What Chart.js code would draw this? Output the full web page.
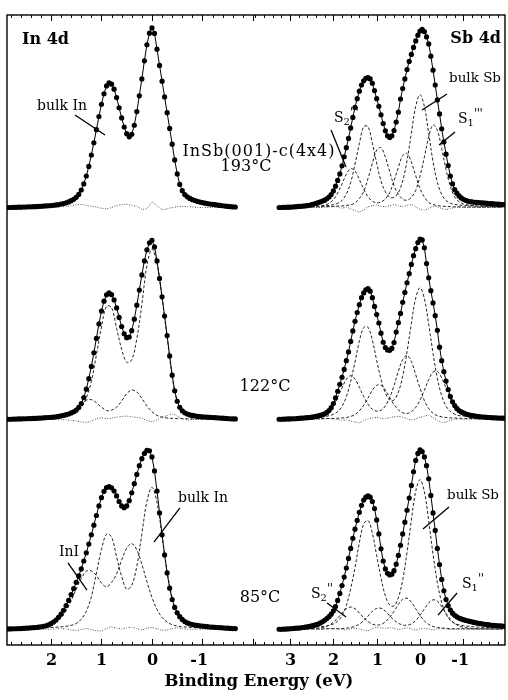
<!DOCTYPE html>
<html>
<head>
<meta charset="utf-8">
<script src="https://cdn.jsdelivr.net/npm/chart.js@4.4.1/dist/chart.umd.min.js"></script>
<style>
  html, body { margin: 0; padding: 0; background: #fff; }
  #wrap { position: relative; width: 508px; height: 700px; }
  canvas { display: block; }
</style>
</head>
<body>
<div id="wrap"><canvas id="xps" width="508" height="700"></canvas></div>
<script>
// Binding energies (eV) of the measured points
var E_IN = [2.85,2.8,2.75,2.7,2.65,2.6,2.55,2.5,2.45,2.4,2.35,2.3,2.25,2.2,2.15,2.1,2.05,2,
  1.95,1.9,1.85,1.8,1.75,1.7,1.65,1.6,1.55,1.5,1.45,1.4,1.35,1.3,1.25,1.2,1.15,1.1,1.05,1,
  0.95,0.9,0.85,0.8,0.75,0.7,0.65,0.6,0.55,0.5,0.45,0.4,0.35,0.3,0.25,0.2,0.15,0.1,0.05,0,
  -0.05,-0.1,-0.15,-0.2,-0.25,-0.3,-0.35,-0.4,-0.45,-0.5,-0.55,-0.6,-0.65,-0.7,-0.75,-0.8,-0.85,-0.9,-0.95,-1,
  -1.05,-1.1,-1.15,-1.2,-1.25,-1.3,-1.35,-1.4,-1.45,-1.5,-1.55,-1.6,-1.65];
var E_SB = [3.25,3.2,3.15,3.1,3.05,3,2.95,2.9,2.85,2.8,2.75,2.7,2.65,2.6,2.55,2.5,2.45,2.4,2.35,2.3,2.25,2.2,2.15,2.1,2.05,2,
  1.95,1.9,1.85,1.8,1.75,1.7,1.65,1.6,1.55,1.5,1.45,1.4,1.35,1.3,1.25,1.2,1.15,1.1,1.05,1,
  0.95,0.9,0.85,0.8,0.75,0.7,0.65,0.6,0.55,0.5,0.45,0.4,0.35,0.3,0.25,0.2,0.15,0.1,0.05,0,
  -0.05,-0.1,-0.15,-0.2,-0.25,-0.3,-0.35,-0.4,-0.45,-0.5,-0.55,-0.6,-0.65,-0.7,-0.75,-0.8,-0.85,-0.9,-0.95,-1,
  -1.05,-1.1,-1.15,-1.2,-1.25,-1.3,-1.35,-1.4,-1.45,-1.5,-1.55,-1.6,-1.65,-1.7,-1.75,-1.8,-1.85,-1.9,-1.95];

// In 4d spectra (normalised intensity)
var IN_193 = [0,0,0.001,0.001,0.002,0.002,0.003,0.003,0.004,0.004,0.005,0.005,0.006,0.007,0.008,0.009,0.010,0.011,
  0.013,0.015,0.017,0.020,0.023,0.027,0.032,0.039,0.047,0.058,0.075,0.100,0.135,0.180,0.235,0.300,0.370,0.445,0.520,0.590,
  0.650,0.695,0.712,0.705,0.676,0.628,0.570,0.512,0.460,0.422,0.404,0.418,0.470,0.548,0.638,0.735,0.838,0.930,0.996,1.026,
  0.995,0.905,0.812,0.722,0.632,0.542,0.452,0.362,0.272,0.192,0.132,0.096,0.074,0.061,0.052,0.045,0.040,0.035,0.031,0.028,
  0.025,0.022,0.020,0.018,0.016,0.014,0.012,0.010,0.008,0.006,0.005,0.004,0.003];
var IN_122 = [0,0,0.001,0.001,0.002,0.002,0.003,0.003,0.004,0.004,0.005,0.005,0.006,0.007,0.008,0.009,0.010,0.011,
  0.012,0.014,0.016,0.019,0.022,0.026,0.030,0.036,0.043,0.053,0.068,0.090,0.124,0.172,0.232,0.302,0.380,0.462,0.545,0.618,
  0.675,0.711,0.722,0.712,0.682,0.636,0.582,0.530,0.488,0.466,0.470,0.506,0.572,0.652,0.738,0.825,0.905,0.968,1.008,1.023,
  0.985,0.905,0.805,0.700,0.590,0.478,0.362,0.252,0.163,0.103,0.068,0.048,0.037,0.030,0.025,0.022,0.019,0.017,0.015,0.014,
  0.013,0.012,0.011,0.010,0.009,0.008,0.007,0.006,0.005,0.004,0.003,0.002,0.002];
var IN_85 = [0.002,0.002,0.003,0.003,0.004,0.004,0.005,0.006,0.007,0.008,0.009,0.010,0.012,0.014,0.017,0.020,0.025,0.032,
  0.041,0.053,0.068,0.086,0.108,0.135,0.165,0.198,0.232,0.268,0.305,0.345,0.390,0.437,0.487,0.540,0.595,0.650,0.705,0.752,
  0.788,0.810,0.815,0.808,0.790,0.762,0.730,0.705,0.695,0.705,0.735,0.780,0.832,0.885,0.935,0.975,1.005,1.022,1.020,0.985,
  0.905,0.790,0.665,0.540,0.425,0.322,0.235,0.170,0.125,0.094,0.072,0.056,0.044,0.036,0.031,0.027,0.024,0.022,0.020,0.018,
  0.016,0.015,0.013,0.012,0.011,0.010,0.009,0.008,0.007,0.006,0.005,0.004,0.004];

// Sb 4d spectra
var SB_193 = [0,0,0.001,0.001,0.002,0.002,0.003,0.004,0.005,0.006,0.007,0.008,0.009,0.011,0.013,0.016,0.020,0.024,0.028,0.032,0.037,0.042,0.050,0.060,0.074,0.095,
  0.122,0.155,0.192,0.238,0.290,0.342,0.395,0.455,0.515,0.572,0.622,0.665,0.700,0.724,0.738,0.742,0.735,0.710,0.668,0.622,
  0.578,0.530,0.480,0.438,0.410,0.400,0.410,0.440,0.488,0.545,0.620,0.680,0.735,0.788,0.835,0.875,0.915,0.952,0.985,1.008,
  1.018,1.005,0.975,0.935,0.865,0.785,0.700,0.615,0.535,0.450,0.375,0.305,0.240,0.180,0.135,0.102,0.082,0.066,0.055,0.047,
  0.041,0.037,0.034,0.032,0.030,0.029,0.028,0.027,0.026,0.025,0.024,0.023,0.022,0.021,0.020,0.019,0.018,0.017,0.016];
var SB_122 = [0,0,0.001,0.001,0.002,0.002,0.003,0.003,0.004,0.005,0.006,0.007,0.008,0.009,0.010,0.012,0.014,0.016,0.019,0.022,0.026,0.031,0.039,0.050,0.066,0.090,
  0.122,0.160,0.200,0.240,0.285,0.335,0.385,0.445,0.505,0.560,0.610,0.655,0.695,0.722,0.740,0.747,0.732,0.695,0.645,0.598,
  0.550,0.492,0.440,0.410,0.396,0.394,0.405,0.438,0.498,0.552,0.605,0.668,0.725,0.780,0.832,0.885,0.935,0.975,1.010,1.030,
  1.025,0.980,0.890,0.808,0.735,0.665,0.592,0.508,0.412,0.335,0.272,0.218,0.170,0.130,0.100,0.078,0.062,0.050,0.042,0.036,
  0.031,0.027,0.024,0.021,0.019,0.017,0.015,0.014,0.013,0.012,0.011,0.010,0.009,0.008,0.008,0.007,0.007,0.006,0.006];
var SB_85 = [0,0,0.001,0.001,0.002,0.003,0.004,0.005,0.006,0.007,0.008,0.010,0.012,0.014,0.016,0.019,0.022,0.026,0.030,0.036,0.043,0.051,0.061,0.072,0.086,0.105,
  0.130,0.165,0.205,0.250,0.298,0.350,0.405,0.462,0.520,0.572,0.622,0.668,0.708,0.738,0.755,0.762,0.755,0.730,0.690,0.625,
  0.545,0.460,0.390,0.345,0.320,0.310,0.315,0.335,0.372,0.422,0.480,0.545,0.612,0.680,0.750,0.822,0.900,0.965,1.005,1.025,
  1.015,0.985,0.935,0.860,0.765,0.665,0.565,0.462,0.370,0.285,0.220,0.170,0.135,0.110,0.092,0.080,0.071,0.064,0.059,0.055,
  0.051,0.048,0.045,0.042,0.039,0.036,0.034,0.032,0.030,0.028,0.026,0.025,0.023,0.022,0.021,0.020,0.019,0.018,0.017];

// Fit components and residuals, on a coarser energy grid
var C_IN = [2.8,2.6,2.4,2.2,2, 1.9,1.8,1.7,1.6,1.5,1.4,1.3,1.2,1.1,1, 0.9,0.8,0.7,0.6,0.5,0.4,0.3,0.2,0.1,0,
  -0.1,-0.2,-0.3,-0.4,-0.5,-0.6,-0.7,-0.8,-0.9,-1, -1.2,-1.4,-1.6];
var C_SB = [3.2,3,2.8,2.6,2.4,2.3,2.2,2.1,2, 1.9,1.8,1.7,1.6,1.5,1.4,1.3,1.2,1.1,1, 0.9,0.8,0.7,0.6,0.5,0.4,0.3,0.2,0.1,0,
  -0.1,-0.2,-0.3,-0.4,-0.5,-0.6,-0.7,-0.8,-0.9,-1, -1.2,-1.4,-1.6,-1.9];

var IN_122_BULK = [0.005,0.006,0.007,0.009,0.012, 0.014,0.017,0.021,0.026,0.036,0.066,0.121,0.216,0.368,0.527,
  0.646,0.638,0.519,0.400,0.325,0.340,0.460,0.656,0.878,0.973, 0.890,0.690,0.470,0.245,0.100,0.050,0.032,0.025,0.020,0.017, 0.012,0.010,0.008];
var IN_122_SURF = [0.001,0.002,0.002,0.003,0.004, 0.006,0.011,0.018,0.034,0.059,0.089,0.109,0.112,0.095,0.069,
  0.050,0.052,0.069,0.105,0.146,0.167,0.156,0.119,0.076,0.043, 0.022,0.012,0.007,0.005,0.004,0.003,0.003,0.002,0.002,0.001, 0.001,0.001,0.001];
var IN_85_BULK = [0.004,0.005,0.006,0.008,0.010, 0.012,0.014,0.017,0.022,0.033,0.057,0.103,0.185,0.321,0.456,
  0.544,0.527,0.412,0.302,0.228,0.251,0.361,0.545,0.731,0.811, 0.724,0.531,0.330,0.181,0.093,0.049,0.031,0.023,0.018,0.015, 0.011,0.009,0.008];
var IN_85_INI = [0.006,0.007,0.009,0.013,0.026, 0.040,0.066,0.106,0.162,0.229,0.290,0.332,0.333,0.307,0.264,
  0.243,0.267,0.318,0.395,0.464,0.489,0.454,0.371,0.273,0.182, 0.113,0.068,0.041,0.026,0.018,0.014,0.012,0.010,0.008,0.007, 0.005,0.005,0.004];

var SB_193_BULK = [0.003,0.004,0.005,0.006,0.007,0.008,0.010,0.012,0.017, 0.024,0.040,0.077,0.142,0.248,0.364,0.462,0.462,0.367,0.254,
  0.150,0.090,0.059,0.058,0.085,0.151,0.267,0.425,0.578,0.645, 0.577,0.423,0.262,0.144,0.074,0.040,0.024,0.018,0.014,0.012, 0.009,0.007,0.006,0.004];
var SB_193_S1 = [0.002,0.002,0.003,0.003,0.004,0.004,0.005,0.005,0.006, 0.008,0.009,0.012,0.015,0.026,0.051,0.091,0.166,0.252,0.328,
  0.342,0.288,0.205,0.125,0.076,0.047,0.042,0.058,0.098,0.180, 0.287,0.404,0.472,0.440,0.337,0.217,0.120,0.061,0.033,0.020, 0.011,0.008,0.006,0.004];
var SB_193_S2 = [0.002,0.003,0.004,0.005,0.007,0.009,0.013,0.024,0.044, 0.083,0.135,0.190,0.222,0.209,0.160,0.105,0.061,0.036,0.027,
  0.031,0.049,0.085,0.152,0.229,0.297,0.309,0.259,0.182,0.107, 0.060,0.029,0.017,0.011,0.008,0.006,0.005,0.004,0.004,0.003, 0.003,0.002,0.002,0.002];
var SB_122_BULK = [0.005,0.006,0.007,0.009,0.011,0.013,0.015,0.020,0.028, 0.043,0.073,0.129,0.216,0.327,0.446,0.524,0.526,0.451,0.336,
  0.229,0.150,0.110,0.110,0.155,0.246,0.385,0.548,0.692,0.751, 0.690,0.543,0.376,0.233,0.134,0.075,0.044,0.029,0.021,0.018, 0.013,0.010,0.007,0.006];
var SB_122_S1 = [0.001,0.001,0.002,0.002,0.003,0.003,0.004,0.004,0.005, 0.006,0.007,0.010,0.016,0.027,0.048,0.080,0.121,0.166,0.194,
  0.195,0.167,0.124,0.084,0.054,0.037,0.033,0.043,0.068,0.109, 0.166,0.226,0.270,0.273,0.236,0.178,0.117,0.070,0.040,0.023, 0.010,0.006,0.004,0.003];
var SB_122_S2 = [0.003,0.004,0.005,0.007,0.010,0.016,0.026,0.045,0.078, 0.125,0.180,0.228,0.249,0.230,0.182,0.130,0.086,0.057,0.046,
  0.051,0.076,0.124,0.193,0.274,0.341,0.365,0.330,0.255,0.176, 0.107,0.061,0.034,0.020,0.014,0.010,0.008,0.007,0.006,0.005, 0.004,0.004,0.003,0.002];
var SB_85_BULK = [0.005,0.006,0.008,0.010,0.013,0.015,0.017,0.022,0.030, 0.046,0.077,0.136,0.231,0.352,0.495,0.601,0.622,0.549,0.421,
  0.293,0.191,0.139,0.133,0.180,0.282,0.438,0.624,0.788,0.855, 0.786,0.619,0.428,0.266,0.153,0.086,0.050,0.033,0.025,0.020, 0.015,0.011,0.009,0.007];
var SB_85_S1 = [0.001,0.001,0.001,0.002,0.002,0.002,0.002,0.003,0.003, 0.003,0.004,0.006,0.010,0.017,0.029,0.049,0.075,0.102,0.119,
  0.120,0.103,0.076,0.052,0.034,0.024,0.023,0.031,0.050,0.080, 0.116,0.151,0.168,0.160,0.129,0.091,0.058,0.033,0.018,0.011, 0.005,0.003,0.002,0.002];
var SB_85_S2 = [0.002,0.002,0.002,0.003,0.005,0.008,0.013,0.023,0.040, 0.064,0.092,0.117,0.127,0.117,0.093,0.066,0.044,0.029,0.024,
  0.027,0.042,0.068,0.102,0.142,0.172,0.177,0.155,0.117,0.079, 0.047,0.028,0.016,0.010,0.007,0.005,0.004,0.003,0.003,0.003, 0.002,0.002,0.002,0.001];

var IN_193_RES = [0,0,0,0,0, 0.002,0.004,0.006,0.010,0.016,0.018,0.012,0.007,0.003,-0.004,
  -0.008,0,0.011,0.016,0.019,0.012,0.006,-0.010,-0.006,0.030, 0.010,-0.012,-0.008,0,0.004,0.006,0.006,0.003,0,0, 0,0,0];
var IN_122_RES = [0,0,0,0,0, 0,-0.002,-0.004,-0.006,-0.010,-0.015,-0.018,-0.010,0.002,0.008,
  0.004,0.006,0.012,0.016,0.018,0.014,0.010,0.006,-0.008,-0.014, -0.004,0.012,0.020,0.032,0.018,0.004,-0.004,-0.002,0,0, 0,0,0];
var IN_85_RES = [0,0,0,0,0, 0.002,0.004,0.002,-0.004,-0.006,-0.002,0.004,-0.002,-0.008,-0.010,
  0.004,0.014,0.006,0.002,0.008,0.012,0.004,-0.004,0.006,0.010, 0.002,-0.006,-0.004,0.004,0.008,0.004,0,0,0,0, 0,0,0];
var SB_193_RES = [0,0,0,0,0,0,0.002,0.004,0.008, 0.004,-0.004,0.002,-0.008,-0.018,-0.026,-0.014,0.004,0.010,0.014,
  0.008,0.004,0.010,0.016,0.010,0.006,0.012,0.016,0.004,-0.010, -0.016,-0.004,0.006,0.004,-0.006,-0.012,-0.006,0,0.002,0, 0,0,0,0];
var SB_122_RES = [0,0,0,0,0,0,0.002,0.004,0.002, -0.002,-0.006,-0.004,-0.010,-0.016,-0.020,-0.008,0.002,0.008,0.010,
  0.006,0.004,0.010,0.014,0.016,0.012,0.004,-0.004,0.002,0.010, 0.018,0.022,0.010,-0.006,-0.018,-0.016,-0.006,0,0.002,0, 0,0,0,0];
var SB_85_RES = [0,0,0,0,0,0,0.002,0.003,0.004, 0.002,-0.002,-0.004,0.002,0.006,0.002,-0.006,-0.008,0.004,0.012,
  0.008,0.004,0.010,0.006,-0.002,0.004,0.008,0.002,-0.004,0.002, 0.006,0.002,-0.004,0.002,0.006,0.002,-0.002,0,0,0, 0,0,0,0];

// Axis ticks (0.2 eV minor steps) and the labelled ones
var IN_TICKS = [2.8,2.6,2.4,2.2,2,1.8,1.6,1.4,1.2,1,0.8,0.6,0.4,0.2,0,-0.2,-0.4,-0.6,-0.8,-1,-1.2,-1.4,-1.6,-1.8,-2];
var SB_TICKS = [3.8,3.6,3.4,3.2,3,2.8,2.6,2.4,2.2,2,1.8,1.6,1.4,1.2,1,0.8,0.6,0.4,0.2,0,-0.2,-0.4,-0.6,-0.8,-1,-1.2,-1.4,-1.6,-1.8];
var IN_LABELS = [2, 1, 0, -1];
var SB_LABELS = [3, 2, 1, 0, -1];

var SERIF = "'DejaVu Serif', 'Liberation Serif', serif";

function pts(xs, ys) {
  return xs.map(function(x, i) { return { x: x, y: ys[i] }; });
}
function dots(xs, ys, xa, ya) {
  return { data: pts(xs, ys), xAxisID: xa, yAxisID: ya, showLine: true,
    borderColor: "#000", borderWidth: 1, pointRadius: 2.6, pointHoverRadius: 2.6,
    pointBackgroundColor: "#000", pointBorderWidth: 0 };
}
function comp(xs, ys, xa, ya) {
  return { data: pts(xs, ys), xAxisID: xa, yAxisID: ya, showLine: true,
    borderColor: "#222", borderWidth: 1, borderDash: [3, 2], pointRadius: 0, tension: 0.35 };
}
function resid(xs, ys, xa, ya) {
  return { data: pts(xs, ys), xAxisID: xa, yAxisID: ya, showLine: true,
    borderColor: "#555", borderWidth: 1, borderDash: [1, 1.5], pointRadius: 0, tension: 0.2 };
}

// dataset 0 is drawn on top, so the measured points come first
var datasets = [
  dots(E_IN, IN_193, "xIn", "y1"), dots(E_IN, IN_122, "xIn", "y2"), dots(E_IN, IN_85, "xIn", "y3"),
  dots(E_SB, SB_193, "xSb", "y1"), dots(E_SB, SB_122, "xSb", "y2"), dots(E_SB, SB_85, "xSb", "y3"),
  comp(C_IN, IN_122_BULK, "xIn", "y2"), comp(C_IN, IN_122_SURF, "xIn", "y2"),
  comp(C_IN, IN_85_BULK, "xIn", "y3"), comp(C_IN, IN_85_INI, "xIn", "y3"),
  comp(C_SB, SB_193_BULK, "xSb", "y1"), comp(C_SB, SB_193_S1, "xSb", "y1"), comp(C_SB, SB_193_S2, "xSb", "y1"),
  comp(C_SB, SB_122_BULK, "xSb", "y2"), comp(C_SB, SB_122_S1, "xSb", "y2"), comp(C_SB, SB_122_S2, "xSb", "y2"),
  comp(C_SB, SB_85_BULK, "xSb", "y3"), comp(C_SB, SB_85_S1, "xSb", "y3"), comp(C_SB, SB_85_S2, "xSb", "y3"),
  resid(C_IN, IN_193_RES, "xIn", "y1"), resid(C_IN, IN_122_RES, "xIn", "y2"), resid(C_IN, IN_85_RES, "xIn", "y3"),
  resid(C_SB, SB_193_RES, "xSb", "y1"), resid(C_SB, SB_122_RES, "xSb", "y2"), resid(C_SB, SB_85_RES, "xSb", "y3")
];

// leader lines, in (energy, intensity) of their panel
var LEADERS = [
  { x: "xIn", y: "y1", e: [1.524, 0.93], v: [0.529, 0.414] },
  { x: "xSb", y: "y1", e: [2.053, 1.707], v: [0.443, 0.231] },
  { x: "xSb", y: "y1", e: [-0.623, -0.046], v: [0.649, 0.557] },
  { x: "xSb", y: "y1", e: [-0.807, -0.438], v: [0.431, 0.357] },
  { x: "xIn", y: "y3", e: [-0.554, -0.04], v: [0.693, 0.498] },
  { x: "xIn", y: "y3", e: [1.663, 1.287], v: [0.379, 0.224] },
  { x: "xSb", y: "y3", e: [-0.669, -0.069], v: [0.699, 0.573] },
  { x: "xSb", y: "y3", e: [2.145, 1.707], v: [0.150, 0.070] },
  { x: "xSb", y: "y3", e: [-0.854, -0.415], v: [0.207, 0.081] }
];

var TEXTS = [
  { t: "In 4d", x: 22, y: 40, f: "bold 16px", a: "left" },
  { t: "Sb 4d", x: 501, y: 39, f: "bold 16px", a: "right" },
  { t: "bulk In", x: 37, y: 106, f: "14px", a: "left" },
  { t: "InSb(001)-c(4x4)", x: 259, y: 152, f: "16px", a: "center", sp: 1 },
  { t: "193\u00b0C", x: 246, y: 167, f: "16px", a: "center" },
  { t: "bulk Sb", x: 449, y: 78, f: "13.5px", a: "left" },
  { t: "122\u00b0C", x: 265, y: 387, f: "16px", a: "center" },
  { t: "bulk In", x: 178, y: 498, f: "14px", a: "left" },
  { t: "InI", x: 59, y: 552, f: "14px", a: "left" },
  { t: "bulk Sb", x: 447, y: 495, f: "13.5px", a: "left" },
  { t: "85\u00b0C", x: 260, y: 598, f: "16px", a: "center" },
  { t: "Binding Energy (eV)", x: 259, y: 682, f: "bold 16.5px", a: "center" }
];
var SLABELS = [
  { sub: "2", p: "'''", x: 334, y: 118 },
  { sub: "1", p: "'''", x: 458, y: 119 },
  { sub: "2", p: "''", x: 311, y: 594 },
  { sub: "1", p: "''", x: 462, y: 584 }
];

function tickLabel(labels) {
  return function(v) { return labels.indexOf(v) >= 0 ? String(v) : ""; };
}

var decor = {
  id: "decor",
  afterDraw: function(chart) {
    var ctx = chart.ctx, a = chart.chartArea;
    ctx.save();
    ctx.strokeStyle = "#000";
    ctx.fillStyle = "#000";

    // frame
    ctx.lineWidth = 1.4;
    ctx.strokeRect(a.left, a.top, a.right - a.left, a.bottom - a.top);

    // inward ticks on top and bottom, labels under the bottom
    ctx.lineWidth = 1;
    ctx.font = "bold 16px " + SERIF;
    ctx.textAlign = "center";
    ctx.textBaseline = "middle";
    ["xIn", "xSb"].forEach(function(id) {
      var s = chart.scales[id];
      s.ticks.forEach(function(t) {
        var px = Math.round(s.getPixelForValue(t.value)) + 0.5;
        var len = Math.abs(t.value - Math.round(t.value)) < 1e-6 ? 6 : 3;
        ctx.beginPath();
        ctx.moveTo(px, a.top); ctx.lineTo(px, a.top + len);
        ctx.moveTo(px, a.bottom); ctx.lineTo(px, a.bottom - len);
        ctx.stroke();
        if (t.label) {
          var shift = t.label.charAt(0) === "-" ? ctx.measureText("-").width / 2 : 0;
          ctx.fillText(t.label, px - shift, 661);
        }
      });
    });

    // leader lines
    ctx.lineWidth = 1.3;
    LEADERS.forEach(function(l) {
      var sx = chart.scales[l.x], sy = chart.scales[l.y];
      ctx.beginPath();
      ctx.moveTo(sx.getPixelForValue(l.e[0]), sy.getPixelForValue(l.v[0]));
      ctx.lineTo(sx.getPixelForValue(l.e[1]), sy.getPixelForValue(l.v[1]));
      ctx.stroke();
    });

    // text
    TEXTS.forEach(function(o) {
      ctx.font = o.f + " " + SERIF;
      ctx.textAlign = o.a;
      ctx.letterSpacing = (o.sp || 0) + "px";
      ctx.fillText(o.t, o.x, o.y);
    });
    ctx.letterSpacing = "0px";
    ctx.textAlign = "left";
    SLABELS.forEach(function(o) {
      ctx.font = "14px " + SERIF;
      ctx.fillText("S", o.x, o.y);
      var w = ctx.measureText("S").width;
      ctx.font = "10px " + SERIF;
      ctx.fillText(o.sub, o.x + w, o.y + 4);
      var w2 = ctx.measureText(o.sub).width;
      ctx.font = "12px " + SERIF;
      ctx.letterSpacing = "-0.5px";
      ctx.fillText(o.p, o.x + w + w2, o.y - 4);
      ctx.letterSpacing = "0px";
    });
    ctx.restore();
  }
};

function xScale(min, max, weight, stackWeight, ticks, labels) {
  return {
    type: "linear", position: "bottom", stack: "x", stackWeight: stackWeight, weight: weight,
    min: min, max: max, reverse: true, display: false,
    afterBuildTicks: function(s) { s.ticks = ticks.map(function(v) { return { value: v }; }); },
    ticks: { autoSkip: false, callback: tickLabel(labels) }
  };
}
function yScale(min, max, weight) {
  return { type: "linear", position: "left", stack: "y", stackWeight: 1, weight: weight,
    min: min, max: max, display: false };
}

new Chart(document.getElementById("xps"), {
  type: "scatter",
  data: { datasets: datasets },
  options: {
    responsive: false,
    animation: false,
    devicePixelRatio: 1,
    layout: { padding: { left: 7, right: 3, top: 15, bottom: 55 } },
    plugins: { legend: { display: false }, tooltip: { enabled: false } },
    events: [],
    scales: {
      xIn: xScale(-2.02, 2.87, 1, 247, IN_TICKS, IN_LABELS),
      xSb: xScale(-1.96, 3.83, 2, 251, SB_TICKS, SB_LABELS),
      y1: yScale(-0.1, 1.1, 3),
      y2: yScale(-0.09, 1.11, 2),
      y3: yScale(-0.09, 1.11, 1)
    }
  },
  plugins: [decor]
});
</script>
</body>
</html>
